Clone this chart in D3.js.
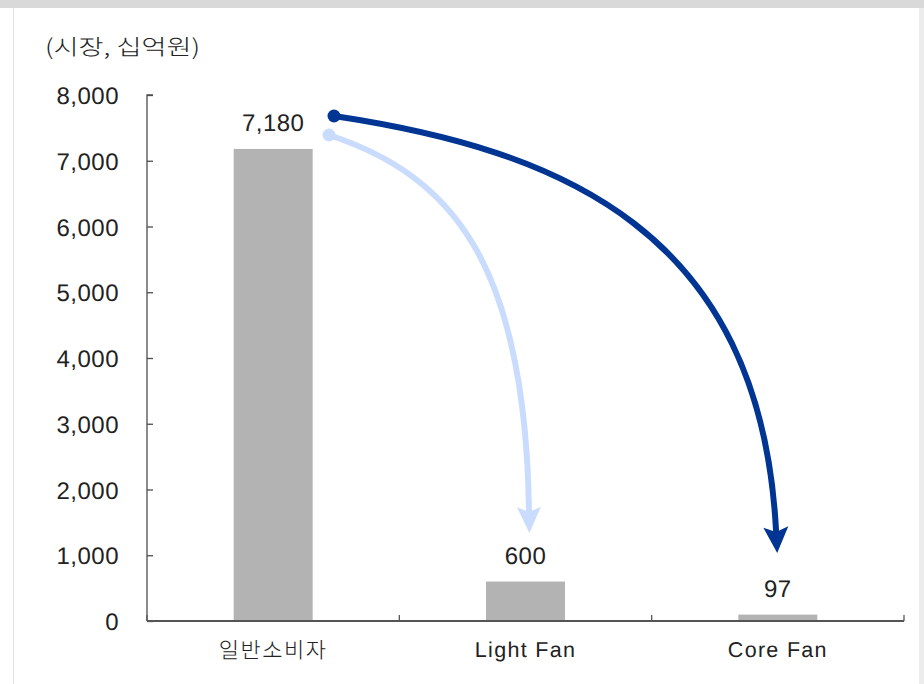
<!DOCTYPE html>
<html>
<head>
<meta charset="utf-8">
<script src="https://cdn.jsdelivr.net/npm/d3@7"></script>
<style>
  html, body { margin: 0; padding: 0; background: #ffffff; }
  svg { display: block; }
  text { fill: #222222; text-rendering: geometricPrecision; }
</style>
</head>
<body>
<svg id="chart" width="924" height="684"></svg>
<script>
// Market size by consumer segment (KRW billions)
const categories = ["일반소비자", "Light Fan", "Core Fan"];
const values = [7180, 600, 97];
const tickValues = [0, 1000, 2000, 3000, 4000, 5000, 6000, 7000, 8000];
const unitLabel = "(시장, 십억원)";

const svg = d3.select("#chart");
const W = 924, H = 684;
const latinFont = "'Liberation Sans', Arial, sans-serif";
const koreanFont = "'Noto Sans CJK KR', sans-serif";

// page frame
svg.append("rect").attr("x", 0).attr("y", 0).attr("width", W).attr("height", H).attr("fill", "#ffffff");
svg.append("rect").attr("x", 0).attr("y", 0).attr("width", W).attr("height", 8).attr("fill", "#d9d9d9");
svg.append("rect").attr("x", 13).attr("y", 8).attr("width", 1).attr("height", H - 8).attr("fill", "#e3e3e3");
svg.append("rect").attr("x", 919).attr("y", 8).attr("width", 5).attr("height", H - 8).attr("fill", "#ececec");

const plotLeft = 147, plotRight = 904, plotTop = 95, plotBottom = 621;

const xb = d3.scaleBand().domain(categories).range([plotLeft, plotRight]);
const y = d3.scaleLinear().domain([0, 8000]).range([plotBottom, plotTop]);
const fmt = d3.format(",");
const isKorean = s => /[가-힣]/.test(s);

// unit label
svg.append("text").attr("x", 45).attr("y", 55)
  .style("font-family", koreanFont).style("font-size", "22px").style("font-weight", 300)
  .attr("textLength", 155).attr("lengthAdjust", "spacingAndGlyphs")
  .text(unitLabel);

// bars
svg.append("g").selectAll("rect").data(values).join("rect")
  .attr("x", (d, i) => xb(categories[i]) + xb.bandwidth() / 2 - 39.5)
  .attr("width", 79)
  .attr("y", d => y(d))
  .attr("height", d => y(0) - y(d))
  .attr("fill", "#b3b3b3");

// value labels
svg.append("g").selectAll("text").data(values).join("text")
  .attr("x", (d, i) => xb(categories[i]) + xb.bandwidth() / 2)
  .attr("y", d => y(d) - 18)
  .attr("text-anchor", "middle")
  .style("font-family", latinFont).style("font-size", "24px").style("letter-spacing", "0.5px")
  .text(d => fmt(d));

// y axis
const yAxis = d3.axisRight(y).tickValues(tickValues).tickSize(6).tickFormat("");
const gy = svg.append("g").attr("transform", `translate(${plotLeft},0)`).call(yAxis);
gy.select(".domain").attr("stroke", "#4d4d4d").attr("stroke-width", 1.3).attr("d", `M6,${plotTop}H0V${plotBottom}`);
gy.selectAll(".tick line").attr("stroke", "#4d4d4d").attr("stroke-width", 1.3);

svg.append("g").selectAll("text").data(tickValues).join("text")
  .attr("x", 119).attr("y", d => y(d) + 9)
  .attr("text-anchor", "end")
  .style("font-family", latinFont).style("font-size", "24px").style("letter-spacing", "0.5px")
  .text(d => fmt(d));

// x axis with boundary ticks
svg.append("line").attr("x1", plotLeft).attr("x2", plotRight).attr("y1", plotBottom).attr("y2", plotBottom)
  .attr("stroke", "#555555").attr("stroke-width", 2);
const boundaries = categories.map(c => xb(c)).concat([plotRight]);
svg.append("g").selectAll("line").data(boundaries).join("line")
  .attr("x1", d => d).attr("x2", d => d)
  .attr("y1", plotBottom).attr("y2", plotBottom - 6)
  .attr("stroke", "#555555").attr("stroke-width", 1.3);

svg.append("g").selectAll("text").data(categories).join("text")
  .attr("x", d => xb(d) + xb.bandwidth() / 2)
  .attr("y", d => isKorean(d) ? 658 : 657)
  .attr("text-anchor", "middle")
  .style("font-size", d => isKorean(d) ? "22px" : "21.5px")
  .style("letter-spacing", d => isKorean(d) ? "1.5px" : "1.3px")
  .style("font-weight", d => isKorean(d) ? 300 : 400)
  .style("font-family", d => isKorean(d) ? koreanFont : latinFont)
  .text(d => d);

// flow arrows from the mass market toward the fan segments
function arrow(p0, p1, p2, p3, color, headLen, headHalf) {
  const path = d3.path();
  path.moveTo(p0[0], p0[1]);
  path.bezierCurveTo(p1[0], p1[1], p2[0], p2[1], p3[0], p3[1]);
  svg.append("path").attr("d", path.toString()).attr("fill", "none")
    .attr("stroke", color).attr("stroke-width", 6).attr("stroke-linecap", "round");
  const dx = p3[0] - p2[0], dy = p3[1] - p2[1];
  const len = Math.hypot(dx, dy);
  const ux = dx / len, uy = dy / len;
  const nx = -uy, ny = ux;
  const tip = [p3[0] + ux * headLen, p3[1] + uy * headLen];
  const back = [p3[0] - ux * 3, p3[1] - uy * 3];
  const head = d3.path();
  head.moveTo(tip[0], tip[1]);
  head.lineTo(back[0] + nx * headHalf, back[1] + ny * headHalf);
  head.lineTo(p3[0] + ux * 2, p3[1] + uy * 2);
  head.lineTo(back[0] - nx * headHalf, back[1] - ny * headHalf);
  head.closePath();
  svg.append("path").attr("d", head.toString()).attr("fill", color);
  svg.append("circle").attr("cx", p0[0]).attr("cy", p0[1]).attr("r", 6.5).attr("fill", color);
}

arrow([329, 135], [450, 175], [525, 260], [529, 510], "#c9dcfd", 23, 12);
arrow([334, 116], [560, 150], [760, 230], [776, 530], "#003594", 23, 12.5);
</script>
</body>
</html>
